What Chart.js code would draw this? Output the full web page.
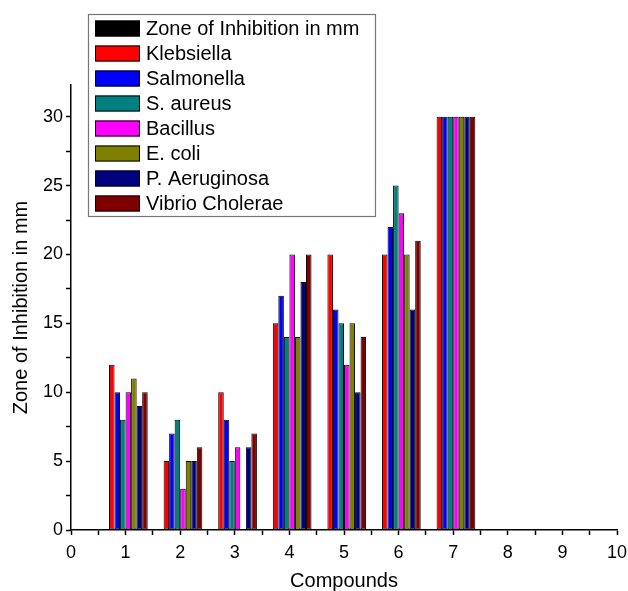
<!DOCTYPE html>
<html>
<head>
<meta charset="utf-8">
<script src="https://cdn.jsdelivr.net/npm/chart.js@4/dist/chart.umd.min.js"></script>
<style>
html,body{margin:0;padding:0;background:#fff;}
#wrap{width:628px;height:591px;position:relative;}
</style>
</head>
<body>
<div id="wrap"><canvas id="c" width="628" height="591"></canvas></div>
<script>
// ---- data ----
const compounds = [1, 2, 3, 4, 5, 6, 7];
const seriesNames = ["Zone of Inhibition in mm", "Klebsiella", "Salmonella", "S. aureus", "Bacillus", "E. coli", "P. Aeruginosa", "Vibrio Cholerae"];
const zoneOfInhibition = [0, 0, 0, 0, 0, 0, 0];
const klebsiella      = [12, 5, 10, 15, 20, 20, 30];
const salmonella      = [10, 7, 8, 17, 16, 22, 30];
const sAureus         = [8, 8, 5, 14, 15, 25, 30];
const bacillus        = [10, 3, 6, 20, 12, 23, 30];
const eColi           = [11, 5, 0, 14, 15, 20, 30];
const pAeruginosa     = [9, 5, 6, 18, 10, 16, 30];
const vibrioCholerae  = [10, 6, 7, 20, 14, 21, 30];
const xTickValues = [0, 1, 2, 3, 4, 5, 6, 7, 8, 9, 10];
const yTickValues = [0, 5, 10, 15, 20, 25, 30];

const seriesValues = [zoneOfInhibition, klebsiella, salmonella, sAureus, bacillus, eColi, pAeruginosa, vibrioCholerae];
const colors = ["#000000", "#FF0000", "#0000FF", "#008080", "#FF00FF", "#808000", "#000080", "#800000"];

const FONT = "'Liberation Sans', Arial, sans-serif";

const datasets = seriesNames.map((name, i) => ({
  label: name,
  data: compounds.map((c, j) => ({ x: c, y: seriesValues[i][j] })),
  backgroundColor: colors[i],
  borderColor: "#000000",
  borderWidth: 1,
  borderSkipped: false,
  categoryPercentage: 1.62,
  barPercentage: 1.0
}));

const boxLegend = {
  id: "boxLegend",
  afterDraw(chart) {
    const ctx = chart.ctx;
    const x0 = 88, y0 = 14, w = 287, h = 202;
    ctx.save();
    ctx.fillStyle = "#fff";
    ctx.fillRect(x0, y0, w, h);
    ctx.strokeStyle = "#777";
    ctx.lineWidth = 1.2;
    ctx.strokeRect(x0 + 0.5, y0 + 0.5, w, h);
    ctx.font = "20px " + FONT;
    ctx.textBaseline = "middle";
    ctx.textAlign = "left";
    chart.data.datasets.forEach((ds, i) => {
      const cy = 28.5 + i * 25;
      ctx.fillStyle = ds.backgroundColor;
      ctx.fillRect(95, cy - 8, 45, 16);
      ctx.strokeStyle = "#000";
      ctx.lineWidth = 1;
      ctx.strokeRect(95.5, cy - 7.5, 44, 15);
      ctx.fillStyle = "#000";
      ctx.fillText(ds.label, 146, cy + 1);
    });
    ctx.restore();
  }
};

new Chart(document.getElementById("c"), {
  type: "bar",
  data: { datasets },
  plugins: [boxLegend],
  options: {
    responsive: false,
    animation: false,
    layout: { padding: { top: 85, right: 0, left: 0, bottom: 0 } },
    plugins: { legend: { display: false }, tooltip: { enabled: false } },
    scales: {
      x: {
        type: "linear",
        min: 0, max: 10,
        offset: false,
        grid: { offset: false, drawOnChartArea: false, color: "#000", tickLength: 5, tickWidth: 1.5 },
        border: { color: "#000", width: 1.5 },
        afterBuildTicks(scale) {
          const t = [];
          for (let v = 0; v <= 10; v += 0.5) t.push({ value: v });
          scale.ticks = t;
        },
        ticks: {
          autoSkip: false,
          maxRotation: 0,
          color: "#000",
          font: { family: FONT, size: 18 },
          padding: 7,
          callback: (v) => xTickValues.includes(v) ? String(v) : ""
        },
        title: { display: true, text: "Compounds", color: "#000", font: { family: FONT, size: 20 }, padding: { top: 0, bottom: -2 } },
        afterFit(scale) { scale.height = 61; scale.paddingRight = 11; scale.paddingLeft = 0; }
      },
      y: {
        type: "linear",
        min: 0, max: 32.3,
        grid: { drawOnChartArea: false, color: "#000", tickLength: 5, tickWidth: 1.5 },
        border: { color: "#000", width: 1.5 },
        afterBuildTicks(scale) {
          const t = [];
          for (let v = 0; v <= 32.3; v += 2.5) t.push({ value: v });
          scale.ticks = t;
        },
        ticks: {
          autoSkip: false,
          color: "#000",
          font: { family: FONT, size: 18 },
          padding: 3,
          callback: (v) => yTickValues.includes(v) ? String(v) : ""
        },
        title: { display: true, text: "Zone of Inhibition in mm", color: "#000", font: { family: FONT, size: 20 }, padding: { top: 9, bottom: 0 } },
        afterFit(scale) { scale.width = 71; scale.paddingTop = 0; scale.paddingBottom = 0; }
      }
    }
  }
});
</script>
</body>
</html>
